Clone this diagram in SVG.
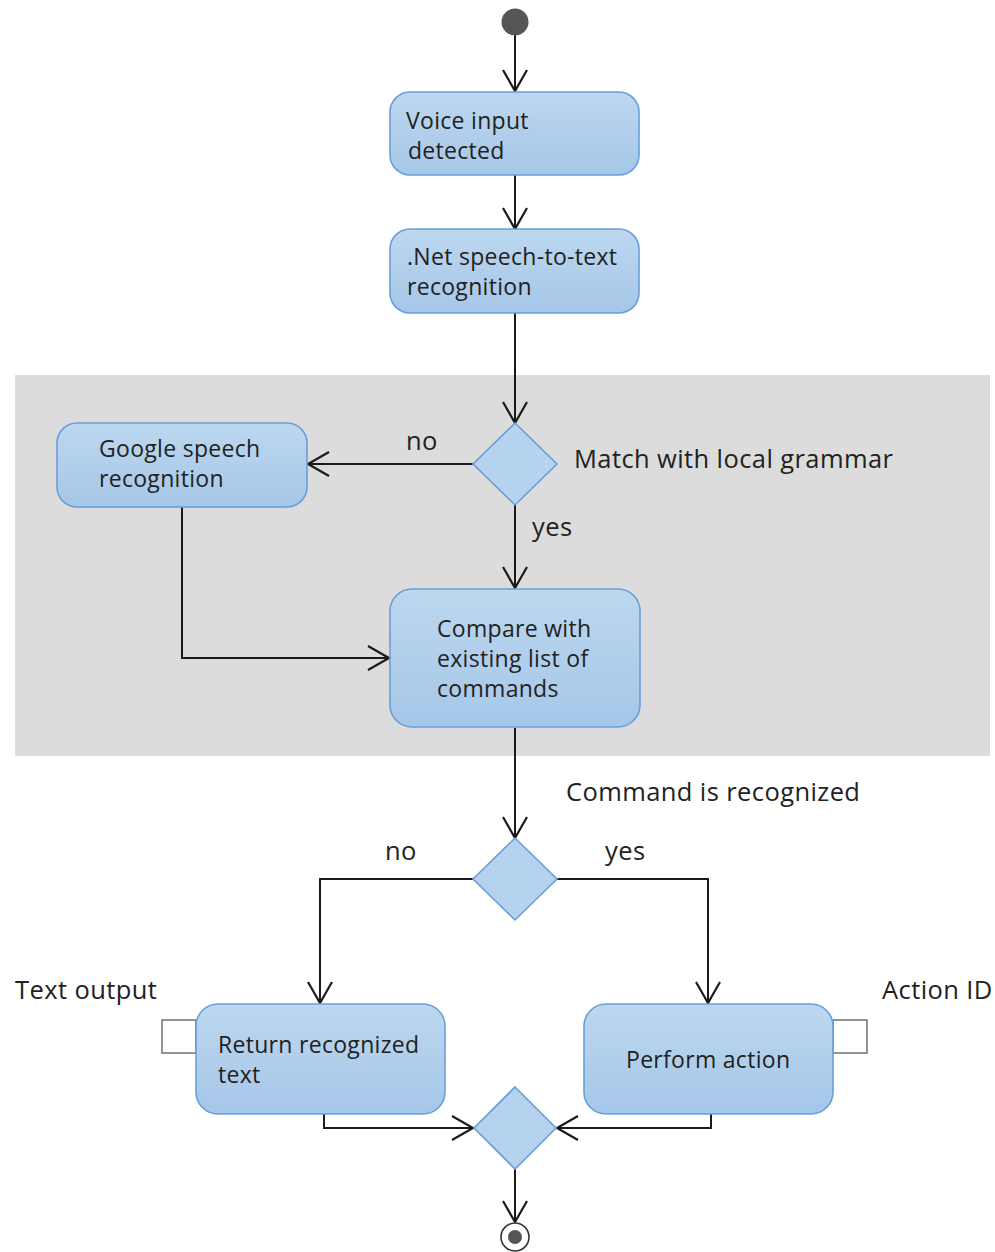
<svg xmlns="http://www.w3.org/2000/svg" width="995" height="1252" viewBox="0 0 995 1252">
  <defs>
    <linearGradient id="actFill" x1="0" y1="0" x2="0" y2="1">
      <stop offset="0" stop-color="#bdd7ef"/>
      <stop offset="1" stop-color="#a5c7e8"/>
    </linearGradient>
    <marker id="open" markerUnits="userSpaceOnUse" viewBox="-24 -15 27 30" markerWidth="27" markerHeight="30" refX="0" refY="0" orient="auto">
      <path d="M-21,-12 L0,0 L-21,12" fill="none" stroke="#1a1a1a" stroke-width="2.2"/>
    </marker>
  </defs>
  <style>
    .act { fill: url(#actFill); stroke: #6a9fd6; stroke-width: 1.6; }
    .dec { fill: #b5d2ef; stroke: #6a9fd6; stroke-width: 1.6; }
    .pin { fill: #ffffff; stroke: #7a7a7a; stroke-width: 1.6; }
    .edge { fill: none; stroke: #1a1a1a; stroke-width: 2; marker-end: url(#open); }
    text { font-family: "Open Sans", "DejaVu Sans", sans-serif; font-size: 23px; letter-spacing: 0.3px; fill: #222; }
    .lbl { font-size: 25.5px; letter-spacing: 0.4px; }
  </style>

  <!-- shaded region around the grammar check -->
  <rect id="region" x="15" y="375" width="975" height="381" fill="#dcdcdc"/>

  <g id="connectors">
    <path class="edge" d="M515,35 L515,91"/>
    <path class="edge" d="M515,175 L515,229"/>
    <path class="edge" d="M515,313 L515,423"/>
    <path class="edge" d="M473,464 L308,464"/>
    <path class="edge" d="M515,505 L515,588"/>
    <path class="edge" d="M182,507 L182,658 L389,658"/>
    <path class="edge" d="M515,728 L515,838"/>
    <path class="edge" d="M473,879 L320,879 L320,1003"/>
    <path class="edge" d="M557,879 L708,879 L708,1003"/>
    <path class="edge" d="M324,1114 L324,1128 L473,1128"/>
    <path class="edge" d="M711,1114 L711,1128 L557,1128"/>
    <path class="edge" d="M515,1169 L515,1222"/>
    <text class="lbl" x="406" y="450">no</text>
    <text class="lbl" x="532" y="536">yes</text>
    <text class="lbl" x="385" y="860">no</text>
    <text class="lbl" x="605" y="860">yes</text>
  </g>

  <g id="start">
    <circle cx="515" cy="22" r="13.5" fill="#555555"/>
  </g>

  <g id="voice-input">
    <rect class="act" x="390" y="92" width="249" height="83" rx="20"/>
    <text x="406" y="129">Voice input</text>
    <text x="408" y="159">detected</text>
  </g>

  <g id="net-recognition">
    <rect class="act" x="390" y="229" width="249" height="84" rx="20"/>
    <text x="407" y="265">.Net speech-to-text</text>
    <text x="407" y="295">recognition</text>
  </g>

  <g id="grammar-check">
    <polygon class="dec" points="515,423 557,464 515,505 473,464"/>
    <text class="lbl" x="574" y="468">Match with local grammar</text>
  </g>

  <g id="google-recognition">
    <rect class="act" x="57" y="423" width="250" height="84" rx="20"/>
    <text x="99" y="457">Google speech</text>
    <text x="99" y="487">recognition</text>
  </g>

  <g id="compare">
    <rect class="act" x="390" y="589" width="250" height="138" rx="22"/>
    <text x="437" y="637">Compare with</text>
    <text x="437" y="667">existing list of</text>
    <text x="437" y="697">commands</text>
  </g>

  <g id="command-check">
    <polygon class="dec" points="515,838 557,879 515,920 473,879"/>
    <text class="lbl" x="566" y="801">Command is recognized</text>
  </g>

  <g id="return-text">
    <rect class="pin" x="162" y="1020" width="34" height="33"/>
    <rect class="act" x="196" y="1004" width="249" height="110" rx="22"/>
    <text x="218" y="1053">Return recognized</text>
    <text x="218" y="1083">text</text>
    <text class="lbl" x="15" y="999">Text output</text>
  </g>

  <g id="perform-action">
    <rect class="pin" x="833" y="1020" width="34" height="33"/>
    <rect class="act" x="584" y="1004" width="249" height="110" rx="22"/>
    <text x="626" y="1068">Perform action</text>
    <text class="lbl" x="882" y="999">Action ID</text>
  </g>

  <g id="merge">
    <polygon class="dec" points="515,1087 556,1128 515,1169 474,1128"/>
  </g>

  <g id="end">
    <circle cx="515" cy="1237" r="14" fill="#ffffff" stroke="#333333" stroke-width="1.6"/>
    <circle cx="515" cy="1237" r="7" fill="#555555"/>
  </g>
</svg>
